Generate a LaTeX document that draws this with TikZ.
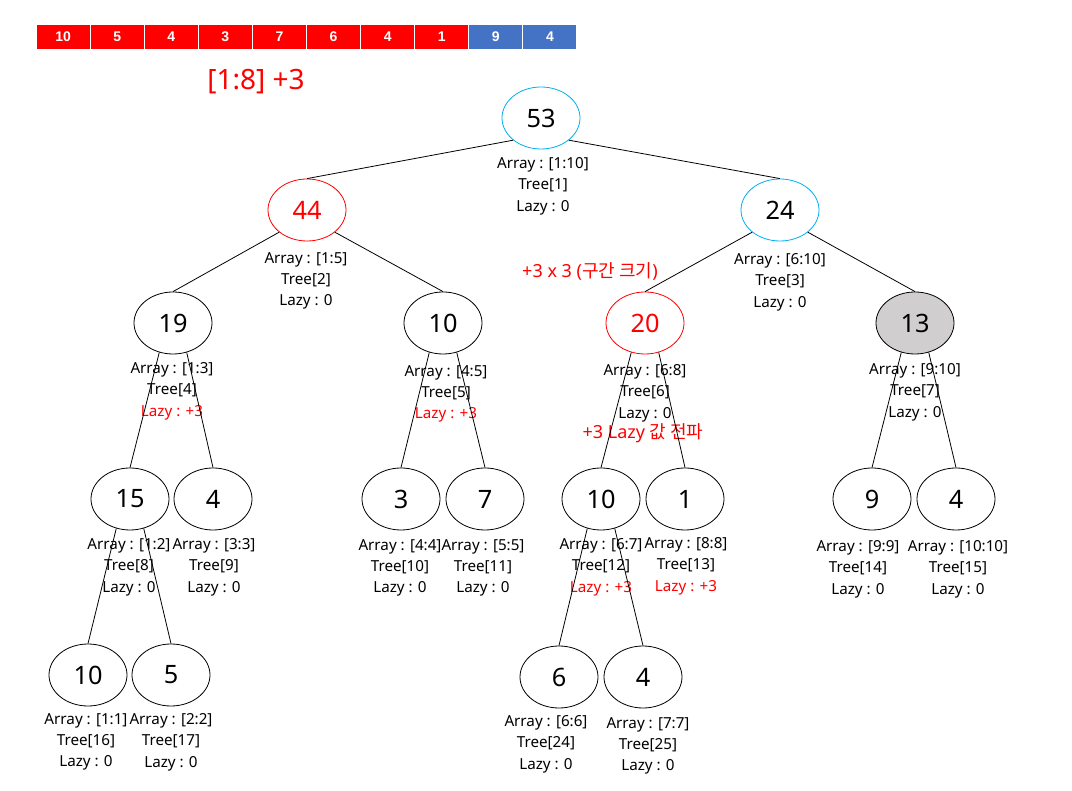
\documentclass[tikz,border=0pt]{standalone}
\usepackage{fontspec}
\setmainfont{Noto Sans}
\newfontfamily\krfont{Noto Sans CJK KR}
\newfontfamily\cellfont{Liberation Sans}
\usepackage{tikz}
\usetikzlibrary{shapes.geometric}
\definecolor{skyblue}{RGB}{0,176,240}
\definecolor{cellblue}{RGB}{68,114,196}
\definecolor{shade}{RGB}{208,206,206}

\begin{document}
\begin{tikzpicture}[x=0.75pt, y=-0.75pt,
  tnode/.style={ellipse, draw=black, line width=0.6pt, minimum width=58.5pt,
    minimum height=46.5pt, inner sep=0pt, font=\fontsize{19}{19}\selectfont},
  hit/.style={draw=red, text=red},
  root/.style={draw=skyblue},
  info/.style={align=center, inner sep=0pt, font=\fontsize{11.4}{16}\selectfont},
  note/.style={text=red, inner sep=0pt, font=\fontsize{13.5}{13.5}\selectfont},
  cell/.style={draw=white, line width=0.8pt, minimum width=40.6pt,
    minimum height=19.5pt, inner sep=0pt, text=white,
    font=\cellfont\bfseries\fontsize{10.5}{10.5}\selectfont},
  every path/.style={line width=0.6pt}]
  \useasboundingbox (0,0) rectangle (1072,791);

  % ============ ARRAY BAR ============
  \node[cell, fill=red]      (c1)  at (63.05,37)  {10};
  \node[cell, fill=red]      (c2)  at (117.15,37) {5};
  \node[cell, fill=red]      (c3)  at (171.25,37) {4};
  \node[cell, fill=red]      (c4)  at (225.35,37) {3};
  \node[cell, fill=red]      (c5)  at (279.45,37) {7};
  \node[cell, fill=red]      (c6)  at (333.55,37) {6};
  \node[cell, fill=red]      (c7)  at (387.65,37) {4};
  \node[cell, fill=red]      (c8)  at (441.75,37) {1};
  \node[cell, fill=cellblue] (c9)  at (495.85,37) {9};
  \node[cell, fill=cellblue] (c10) at (549.95,37) {4};
  \node[note, font=\fontsize{21}{21}\selectfont] (query) at (256,82) {[1:8] +3};

  % ============ TREE NODES ============
  % level 0-1
  \node[tnode, root] (t1) at (541,118) {53};
  \node[tnode, hit]  (t2) at (307,210) {44};
  \node[tnode, root] (t3) at (780,210) {24};
  % level 2
  \node[tnode]       (t4) at (173,323) {19};
  \node[tnode]       (t5) at (443,323) {10};
  \node[tnode, hit]  (t6) at (645,323) {20};
  \node[tnode, fill=shade] (t7) at (915,323) {13};
  % level 3
  \node[tnode] (t8)  at (130,499) {15};
  \node[tnode] (t9)  at (213,499) {4};
  \node[tnode] (t10) at (401,499) {3};
  \node[tnode] (t11) at (485,499) {7};
  \node[tnode] (t12) at (601,499) {10};
  \node[tnode] (t13) at (685,499) {1};
  \node[tnode] (t14) at (872,499) {9};
  \node[tnode] (t15) at (956,499) {4};
  % level 4
  \node[tnode] (t16) at (88,675)  {10};
  \node[tnode] (t17) at (171,675) {5};
  \node[tnode] (t24) at (559,677) {6};
  \node[tnode] (t25) at (643,677) {4};

  % ============ INFO LABELS ============
  \node[info] (i1)  at (543,186) {Array : [1:10]\\Tree[1]\\Lazy : 0};
  \node[info] (i2)  at (306,281) {Array : [1:5]\\Tree[2]\\Lazy : 0};
  \node[info] (i3)  at (780,282) {Array : [6:10]\\Tree[3]\\Lazy : 0};
  \node[info] (i4)  at (172,391) {Array : [1:3]\\Tree[4]\\\textcolor{red}{Lazy : +3}};
  \node[info] (i5)  at (446,394) {Array : [4:5]\\Tree[5]\\\textcolor{red}{Lazy : +3}};
  \node[info] (i6)  at (645,393) {Array : [6:8]\\Tree[6]\\Lazy : 0};
  \node[info] (i7)  at (915,392) {Array : [9:10]\\Tree[7]\\Lazy : 0};
  \node[info] (i8)  at (129,567) {Array : [1:2]\\Tree[8]\\Lazy : 0};
  \node[info] (i9)  at (214,567) {Array : [3:3]\\Tree[9]\\Lazy : 0};
  \node[info] (i10) at (400,568) {Array : [4:4]\\Tree[10]\\Lazy : 0};
  \node[info] (i11) at (483,568) {Array : [5:5]\\Tree[11]\\Lazy : 0};
  \node[info] (i12) at (601,567) {Array : [6:7]\\Tree[12]\\\textcolor{red}{Lazy : +3}};
  \node[info] (i13) at (686,566) {Array : [8:8]\\Tree[13]\\\textcolor{red}{Lazy : +3}};
  \node[info] (i14) at (858,569) {Array : [9:9]\\Tree[14]\\Lazy : 0};
  \node[info] (i15) at (958,569) {Array : [10:10]\\Tree[15]\\Lazy : 0};
  \node[info] (i16) at (86,742)  {Array : [1:1]\\Tree[16]\\Lazy : 0};
  \node[info] (i17) at (171,742) {Array : [2:2]\\Tree[17]\\Lazy : 0};
  \node[info] (i24) at (546,744) {Array : [6:6]\\Tree[24]\\Lazy : 0};
  \node[info] (i25) at (648,746) {Array : [7:7]\\Tree[25]\\Lazy : 0};

  % red remarks next to node 20
  \node[note] (sizenote) at (590,271) {+3 x 3 ({\krfont 구간 크기})};
  \node[note] (pushnote) at (643,433) {+3 Lazy {\krfont 값 전파}};

  % ============ EDGES ============
  \draw (t1.south west) -- (t2.north);
  \draw (t1.south east) -- (t3.north);
  \draw (t2.south west) -- (t4.north);
  \draw (t2.south east) -- (t5.north);
  \draw (t3.south west) -- (t6.north);
  \draw (t3.south east) -- (t7.north);
  \draw (t4.245) -- (t8.north);
  \draw (t4.295) -- (t9.north);
  \draw (t5.245) -- (t10.north);
  \draw (t5.295) -- (t11.north);
  \draw (t6.245) -- (t12.north);
  \draw (t6.295) -- (t13.north);
  \draw (t7.245) -- (t14.north);
  \draw (t7.295) -- (t15.north);
  \draw (t8.245) -- (t16.north);
  \draw (t8.295) -- (t17.north);
  \draw (t12.245) -- (t24.north);
  \draw (t12.295) -- (t25.north);
\end{tikzpicture}
\end{document}
